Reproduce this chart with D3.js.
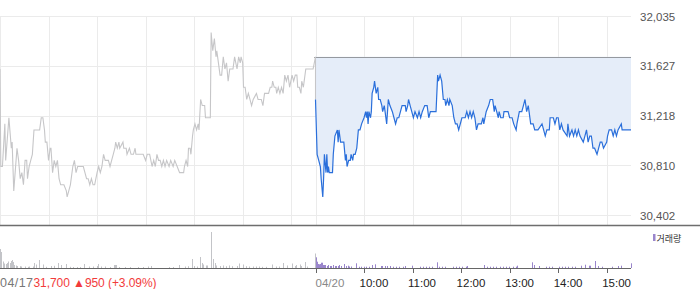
<!DOCTYPE html>
<html><head><meta charset="utf-8">
<script src="https://cdn.jsdelivr.net/npm/d3@7/dist/d3.min.js"></script>
<style>
html,body{margin:0;padding:0;background:#fff;}
svg{display:block;}
text{font-family:"Liberation Sans",Arial,sans-serif;}
</style></head>
<body><svg id="c" width="700" height="289"></svg>
<script>
// ---- data ----
const prevClose = 31700;
const yTicks = [30402, 30810, 31218, 31627, 32035];
const dayLabels = ["04/17", "04/20"];
const timeLabels = ["10:00", "11:00", "12:00", "13:00", "14:00", "15:00"];
const headline = "31,700 \u25B2950 (+3.09%)";
const legendLabel = "거래량";

// 04/17 session (minutes since 09:00)
const day1Min = [0,1,3,6,7,11,14,15,17,21,23,25,27,29,31,33,34,36,38,40,42,45,49,51,53,55,56,58,60,62,63,65,67,69,71,73,75,77,79,82,83,85,87,90,92,94,96,103,105,107,109,111,113,115,117,120,122,124,126,128,130,134,136,138,140,142,143,145,147,148,152,153,156,157,160,162,165,167,168,175,177,180,182,185,188,190,192,194,196,198,200,202,204,206,209,211,214,216,219,222,227,228,230,232,233,235,236,238,239,241,243,245,246,248,250,253,254,260,261,263,265,267,268,270,272,274,276,278,280,282,284,288,290,293,295,297,298,300,301,303,305,307,309,311,313,317,319,323,325,327,332,334,336,337,339,341,342,344,346,348,350,352,354,356,358,361,363,365,367,368,370,372,373,375,376,378,387,390];
const day1Price = [31600,30800,30800,31150,30850,31200,30950,31000,30600,30950,30850,30700,30750,30650,30850,30850,30700,30800,30850,30900,31100,31100,31100,31200,31200,31100,31000,31000,30850,30950,30950,30750,30850,30800,30850,30700,30650,30650,30650,30600,30550,30600,30650,30800,30850,30750,30800,30800,30750,30700,30700,30650,30700,30650,30650,30750,30800,30750,30800,30900,30850,30850,30800,30850,30900,30950,31000,30950,31000,30950,31000,30950,30950,30900,30950,30900,30900,30950,30900,30900,30900,30850,30900,30900,30800,30850,30800,30900,30850,30850,30800,30850,30800,30850,30800,30850,30800,30850,30800,30750,30750,30800,30850,30800,30950,30950,30900,31050,31100,31150,31100,31150,31100,31350,31300,31300,31200,31200,31900,31750,31850,31700,31750,31650,31550,31550,31700,31600,31650,31500,31600,31600,31700,31600,31700,31650,31700,31650,31450,31450,31350,31400,31350,31300,31350,31400,31350,31350,31300,31400,31400,31450,31450,31500,31450,31450,31400,31450,31400,31450,31400,31550,31500,31550,31450,31550,31500,31550,31550,31450,31450,31400,31500,31450,31500,31600,31600,31700];

// 04/20 session (minutes since 09:00)
const day2Min = [0,2,4,6,7,9,10,11,13,14,15,16,17,21,22,24,27,28,29,31,35,37,38,39,41,43,44,46,47,49,51,53,55,57,60,62,63,64,65,66,68,69,70,72,73,75,77,78,80,82,83,85,86,88,90,92,95,97,99,101,103,105,107,109,111,112,114,115,117,119,121,123,126,128,130,132,135,138,140,142,149,151,152,154,156,158,160,161,163,165,166,169,171,173,175,177,179,181,185,187,189,191,193,195,197,199,201,205,207,208,211,214,216,219,221,222,224,226,227,229,232,233,238,240,243,245,248,249,252,255,257,259,261,263,264,266,269,271,275,280,282,284,286,289,290,294,296,298,300,302,304,306,311,312,314,317,319,321,323,325,327,331,333,335,337,339,341,343,345,348,350,352,354,356,360,361,363,366,368,370,372,374,378,379,390];
const day2Price = [31350,30900,30850,30800,30700,30550,30700,30900,30750,30900,30750,30800,30750,30750,30900,31050,31100,31000,31100,31000,31000,30850,30900,30800,30850,30850,30900,30850,30900,30900,30950,31100,31100,31150,31200,31250,31200,31250,31150,31250,31200,31250,31400,31450,31500,31400,31450,31350,31350,31300,31250,31300,31250,31150,31350,31300,31250,31200,31150,31200,31200,31250,31300,31300,31300,31250,31300,31350,31300,31250,31200,31250,31200,31250,31200,31250,31300,31300,31200,31250,31250,31550,31500,31550,31500,31350,31350,31300,31350,31300,31350,31300,31200,31150,31150,31100,31150,31200,31200,31250,31200,31250,31200,31250,31200,31100,31150,31150,31200,31150,31250,31300,31350,31350,31250,31300,31250,31200,31250,31200,31200,31250,31250,31200,31200,31150,31100,31150,31250,31250,31300,31350,31250,31300,31250,31150,31150,31100,31100,31150,31100,31050,31100,31100,31200,31200,31150,31200,31200,31100,31150,31100,31050,31150,31050,31100,31050,31100,31050,31100,31050,31000,31050,31100,31000,31050,31050,30950,30950,30900,30950,31000,31000,30950,31000,31050,31100,31100,31050,31100,31050,31100,31150,31100,31100];

// volume (shares)
const vol1Min = [0,1,2,4,5,6,8,9,10,11,13,14,16,17,18,20,22,25,27,31,35,37,41,43,45,49,54,58,64,67,72,76,82,87,91,96,99,105,111,115,120,122,126,131,136,141,143,144,148,155,161,171,177,183,187,210,214,222,229,233,238,241,244,248,250,252,255,257,261,262,264,266,268,272,276,280,284,288,293,296,301,305,309,313,317,321,325,330,337,342,346,351,356,361,365,367,371,373,378,380,390];
const vol1Val = [19000,16000,16000,6500,4500,4000,4000,5000,4000,6500,5000,7000,8000,6000,3000,2500,2000,1800,1500,1500,1200,1500,1500,5000,3500,8000,3500,1200,2000,2200,5000,3000,4000,1200,1000,1000,1000,4000,1500,1500,2000,4000,1500,1500,1000,3000,3000,3000,1000,1000,1000,1000,1000,1500,2000,1000,1000,3000,1500,1800,9000,2000,1500,11000,5000,3500,2500,2500,36000,14000,9000,5000,2500,2000,2500,1800,2500,1800,2000,4500,3500,1800,1500,1500,1500,1500,1200,1200,3500,1500,1500,5000,2500,4500,2000,3000,3500,2000,6000,1500,14500];
const vol2Min = [0,1,2,3,4,5,6,7,8,9,10,11,13,15,17,19,21,23,25,27,29,31,34,35,37,39,41,43,49,53,56,59,62,65,69,73,80,82,85,88,91,95,99,103,107,110,119,128,132,136,140,144,149,152,156,160,169,173,177,181,185,187,208,211,215,219,223,227,231,235,239,243,247,249,267,270,276,284,288,292,300,304,308,312,316,320,327,332,337,339,345,348,354,366,373,377,389];
const vol2Val = [10700,6300,4000,4000,3700,4000,5300,5000,5300,3000,3000,3000,2000,3000,2000,2000,3000,2000,2000,2000,3000,2000,4000,4000,2000,2300,1500,1500,4700,1300,1300,1300,1300,1300,3000,3700,2000,2000,2000,2000,2000,1300,1300,1300,1300,2000,2300,1300,1300,1300,1300,1300,5700,1300,1300,1300,1300,1300,1300,1300,1300,2000,3000,1300,1300,1300,1300,1300,1300,1300,1300,1300,1300,2300,5700,3000,2000,1300,1300,1300,1300,1300,1300,1300,1300,1300,2300,3300,2300,2300,7000,2000,1300,1300,2000,2300,4700];

// ---- drawing ----
const svg = d3.select("#c");
const W = 700, H = 289;
const plotR = 631;
const sessionLen = 390;
const x = d3.scaleLinear().domain([0, sessionLen * 2]).range([0, plotR]);
const y = d3.scaleLinear().domain([30402, 32035]).range([215, 16]);
const yv = d3.scaleLinear().domain([0, 40000]).range([268, 228]);

const d1 = day1Min.map((m, i) => ({t: m, v: day1Price[i]}));
const d2 = day2Min.map((m, i) => ({t: sessionLen + m, v: day2Price[i]}));

svg.append("rect").attr("width", W).attr("height", H).attr("fill", "#fff");

// grid
const grid = svg.append("g");
yTicks.forEach(t => {
  grid.append("line").attr("x1", 0).attr("x2", plotR)
    .attr("y1", Math.round(y(t)) + 0.5).attr("y2", Math.round(y(t)) + 0.5)
    .attr("stroke", "#ebebeb");
});
const vTicks = d3.range(0, 7).map(h => h * 60).concat(d3.range(0, 7).map(h => sessionLen + h * 60));
vTicks.forEach(t => {
  const xx = Math.round(x(t)) + 0.5;
  grid.append("line").attr("x1", xx).attr("x2", xx).attr("y1", 16).attr("y2", 225)
    .attr("stroke", "#ebebeb");
});

// area fill for 04/20 relative to previous close
svg.append("path").datum(d2)
  .attr("d", d3.area().x(d => x(d.t)).y0(y(prevClose)).y1(d => y(d.v)))
  .attr("fill", "#e5edf9");

// previous close dotted line
svg.append("line").attr("x1", x(sessionLen) - 1).attr("x2", plotR)
  .attr("y1", Math.round(y(prevClose)) + 0.5).attr("y2", Math.round(y(prevClose)) + 0.5)
  .attr("stroke", "#444").attr("stroke-dasharray", "1,1");

// lines
const line = d3.line().x(d => x(d.t)).y(d => y(d.v));
svg.append("path").datum(d1).attr("d", line)
  .attr("fill", "none").attr("stroke", "#c6c6c8").attr("stroke-width", 1.1);
svg.append("path").datum([d1[d1.length - 1], d2[0]]).attr("d", line)
  .attr("fill", "none").attr("stroke", "#c6c6c8").attr("stroke-width", 1.1);
svg.append("path").datum(d2).attr("d", line)
  .attr("fill", "none").attr("stroke", "#2a6fdb").attr("stroke-width", 1.2);

// right axis
const yAxis = svg.append("g").attr("transform", `translate(${plotR},0.5)`)
  .call(d3.axisRight(y).tickValues(yTicks).tickSize(0).tickPadding(9).tickFormat(d3.format(",")));
yAxis.select(".domain").remove();
yAxis.selectAll("text").attr("fill", "#555").style("font-size", "11.5px")
  .style("font-family", "'Liberation Sans',Arial,sans-serif");

// separator
svg.append("line").attr("x1", 0).attr("x2", W).attr("y1", 225.5).attr("y2", 225.5)
  .attr("stroke", "#6e6e6e").attr("stroke-width", 1.4);

// volume bars
const vb = svg.append("g");
vol1Min.forEach((m, i) => {
  vb.append("rect").attr("x", Math.floor(x(m))).attr("width", 1)
    .attr("y", yv(vol1Val[i])).attr("height", yv(0) - yv(vol1Val[i])).attr("fill", "#c3c4c8");
});
vol2Min.forEach((m, i) => {
  vb.append("rect").attr("x", Math.floor(x(sessionLen + m)) + 1).attr("width", 1)
    .attr("y", yv(vol2Val[i])).attr("height", yv(0) - yv(vol2Val[i])).attr("fill", "#9a86cc");
});

// volume baseline
svg.append("line").attr("x1", 0).attr("x2", plotR).attr("y1", 268.5).attr("y2", 268.5)
  .attr("stroke", "#666");

// time axis ticks
const xTickVals = [sessionLen].concat(d3.range(1, 7).map(h => sessionLen + h * 60));
xTickVals.forEach(t => {
  const xx = Math.round(x(t)) + 0.5;
  svg.append("line").attr("x1", xx).attr("x2", xx).attr("y1", 268).attr("y2", 273)
    .attr("stroke", "#666");
});
svg.append("text").attr("x", x(sessionLen)).attr("y", 287).text(dayLabels[1])
  .attr("fill", "#888").style("font-size", "11.5px");
timeLabels.forEach((lab, i) => {
  svg.append("text").attr("x", x(sessionLen + (i + 1) * 60) - 4.5).attr("y", 287).text(lab)
    .attr("fill", "#222").style("font-size", "11.5px");
});

// bottom-left label
svg.append("text").attr("x", 0).attr("y", 287).text(dayLabels[0])
  .attr("fill", "#777").style("font-size", "12.5px").attr("textLength", 33);
svg.append("text").attr("x", 33.5).attr("y", 287).text(headline)
  .attr("fill", "#f23b3b").style("font-size", "12px").attr("textLength", 123);

// legend
svg.append("rect").attr("x", 653).attr("y", 234).attr("width", 2.5).attr("height", 7).attr("fill", "#9a86cc");
svg.append("text").attr("x", 656.5).attr("y", 241.5).text(legendLabel)
  .attr("fill", "#333").style("font-size", "9px").style("font-family", "'Noto Sans CJK KR',sans-serif");
</script></body></html>
